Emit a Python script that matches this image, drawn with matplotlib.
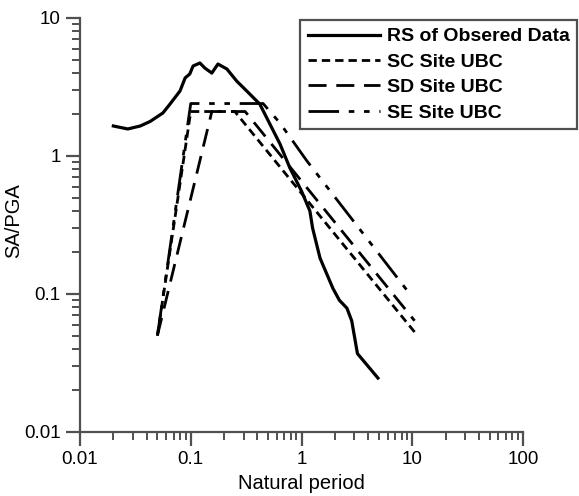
import numpy as np
import matplotlib
matplotlib.use('Agg')
import matplotlib.pyplot as plt
from matplotlib.ticker import LogLocator, NullFormatter, FixedLocator

plt.rcParams['font.family'] = ['Liberation Sans', 'DejaVu Sans']

# response spectrum of the observed record
rs_T = [0.02, 0.027, 0.035, 0.043, 0.056, 0.065, 0.080, 0.089, 0.098, 0.105, 0.121,
        0.134, 0.155, 0.176, 0.212, 0.26, 0.32, 0.42, 0.64, 0.785, 1.0, 1.19,
        1.26, 1.47, 1.92, 2.2, 2.57, 2.84, 3.2, 4.9]
rs_SA = [1.65, 1.57, 1.65, 1.78, 2.05, 2.38, 2.96, 3.68, 3.93, 4.49, 4.72,
         4.34, 3.99, 4.64, 4.27, 3.49, 2.96, 2.38, 1.22, 0.82, 0.557, 0.40,
         0.30, 0.182, 0.11, 0.09, 0.079, 0.064, 0.037, 0.0246]

# UBC design spectra
sc_T = [0.05, 0.1, 0.25, 10.5]
sc_SA = [0.05, 2.1, 2.1, 0.053]
sd_T = [0.05, 0.155, 0.31, 10.5]
sd_SA = [0.05, 2.1, 2.1, 0.064]
se_T = [0.05, 0.1, 0.45, 0.64, 1.12, 9.0]
se_SA = [0.05, 2.4, 2.4, 1.73, 0.92, 0.106]

fig = plt.figure(figsize=(5.79, 4.96), dpi=100)
ax = fig.add_axes([80/579, 64/496, 443/579, 414/496])

ax.plot(rs_T, rs_SA, color='black', lw=2.3, label='RS of Obsered Data')
l1, = ax.plot(sc_T, sc_SA, color='black', lw=2, label='SC Site UBC')
l1.set_dashes([3, 1.8])
l2, = ax.plot(sd_T, sd_SA, color='black', lw=2, label='SD Site UBC')
l2.set_dashes([6.5, 3.5])
l3, = ax.plot(se_T, se_SA, color='black', lw=2, label='SE Site UBC')
l3.set_dashes([11, 3.5, 2, 3.5, 2, 3.5])

ax.set_xscale('log')
ax.set_yscale('log')
ax.set_xlim(0.01, 100)
ax.set_ylim(0.01, 10)

ax.spines['top'].set_visible(False)
ax.spines['right'].set_visible(False)
for s in ['left', 'bottom']:
    ax.spines[s].set_color('#505050')
    ax.spines[s].set_linewidth(1.6)

ax.xaxis.set_major_locator(FixedLocator([0.01, 0.1, 1, 10, 100]))
ax.yaxis.set_major_locator(FixedLocator([0.01, 0.1, 1, 10]))
ax.set_xticklabels(['0.01', '0.1', '1', '10', '100'])
ax.set_yticklabels(['0.01', '0.1', '1', '10'])
ax.xaxis.set_minor_locator(LogLocator(base=10, subs=np.arange(2, 10)))
ax.yaxis.set_minor_locator(LogLocator(base=10, subs=np.arange(2, 10)))
ax.xaxis.set_minor_formatter(NullFormatter())
ax.yaxis.set_minor_formatter(NullFormatter())
ax.tick_params(which='major', direction='out', length=10, width=1.6, color='#505050',
               labelsize=13.5, pad=4)
ax.tick_params(which='minor', direction='out', length=6, width=1.4, color='#505050')

ax.set_xlabel('Natural period', fontsize=14.5, labelpad=4)
ax.set_ylabel('SA/PGA', fontsize=14.5)
ax.yaxis.set_label_coords(-0.128, 0.51)

leg = ax.legend(loc='upper left', bbox_to_anchor=(300/579, 1 - 20/496),
                bbox_transform=fig.transFigure, borderaxespad=0,
                fancybox=False, edgecolor='#505050', framealpha=1,
                prop={'weight': 'bold', 'size': 14}, handlelength=3.7,
                handletextpad=0.35, labelspacing=0.4, borderpad=0.4)
leg.get_frame().set_linewidth(1.6)

fig.savefig('out.png', dpi=100)
